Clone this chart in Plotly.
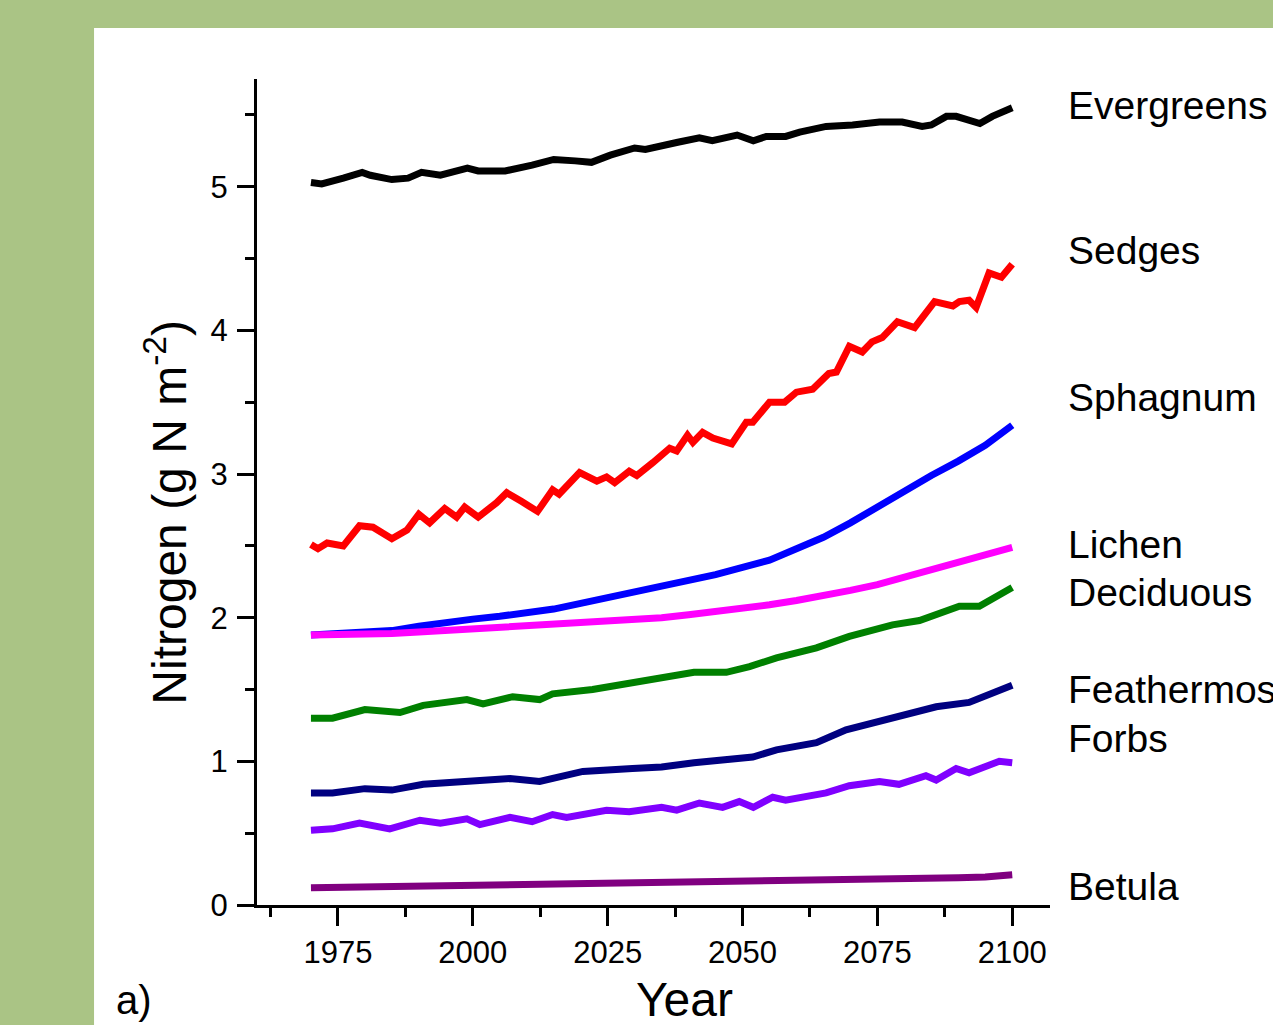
import plotly.graph_objects as go

# ---- Simulated plant-functional-type nitrogen pools (g N m-2), 1970-2100 ----
evergreens_years = [1970, 1972, 1976, 1979.5, 1981, 1985, 1988, 1990.5, 1994, 1999, 2001, 2006,
                    2011, 2015, 2019, 2022, 2025.5, 2030, 2032, 2035, 2038, 2042, 2044.4, 2049,
                    2052, 2054.4, 2058, 2060.6, 2065.5, 2070.4, 2075.4, 2079.6, 2083.3, 2085,
                    2087.8, 2089.6, 2094, 2096.3, 2100]
evergreens = [5.03, 5.02, 5.06, 5.10, 5.08, 5.05, 5.06, 5.10, 5.08, 5.13, 5.11, 5.11,
              5.15, 5.19, 5.18, 5.17, 5.22, 5.27, 5.26, 5.29, 5.31, 5.34, 5.32, 5.36,
              5.32, 5.35, 5.35, 5.38, 5.42, 5.43, 5.45, 5.45, 5.42, 5.43,
              5.49, 5.49, 5.44, 5.49, 5.55]

sedges_years = [1970, 1971.3, 1973, 1976, 1979, 1981.5, 1985, 1987.8, 1990, 1992, 1994.8, 1997,
                1998.5, 2001, 2004.4, 2006.3, 2009, 2012, 2014.8, 2016, 2019.8, 2023, 2024.8,
                2026.3, 2029, 2030.4, 2033.4, 2036.5, 2037.8, 2039.8, 2040.8, 2042.6, 2044.5,
                2048, 2050.7, 2051.9, 2055, 2057.8, 2060, 2063, 2066, 2067.4, 2069.8, 2072.2,
                2074, 2075.9, 2078.7, 2081.9, 2085.6, 2089, 2090.2, 2092, 2093.3, 2095.7,
                2098, 2100]
sedges = [2.51, 2.48, 2.52, 2.50, 2.64, 2.63, 2.55, 2.61, 2.72, 2.66, 2.76, 2.70,
          2.77, 2.70, 2.80, 2.87, 2.81, 2.74, 2.89, 2.86, 3.01, 2.95, 2.98,
          2.94, 3.02, 2.99, 3.08, 3.18, 3.16, 3.27, 3.22, 3.29, 3.25,
          3.21, 3.36, 3.36, 3.50, 3.50, 3.57, 3.59, 3.70, 3.71, 3.89, 3.85,
          3.92, 3.95, 4.06, 4.02, 4.20, 4.17, 4.20, 4.21, 4.16, 4.40,
          4.37, 4.46]

smooth_years = [1970, 1975, 1980, 1985, 1990, 1995, 2000, 2005, 2010, 2015, 2020, 2025, 2030,
                2035, 2040, 2045, 2050, 2055, 2060, 2065, 2070, 2075, 2080, 2085, 2090, 2095, 2100]
sphagnum = [1.88, 1.89, 1.90, 1.91, 1.94, 1.97, 1.99, 2.01, 2.03, 2.06, 2.10, 2.14, 2.17,
            2.21, 2.26, 2.30, 2.35, 2.40, 2.48, 2.56, 2.66, 2.77, 2.89, 2.99, 3.09, 3.20, 3.34]
lichen = [1.88, 1.88, 1.88, 1.89, 1.90, 1.91, 1.92, 1.93, 1.94, 1.95, 1.96, 1.97, 1.99,
          2.00, 2.02, 2.04, 2.06, 2.09, 2.12, 2.15, 2.19, 2.23, 2.28, 2.33, 2.38, 2.43, 2.49]

deciduous_years = [1970, 1974, 1980, 1986.5, 1990.8, 1995.7, 1998.9, 2001.9, 2007.4, 2012.4,
                   2014.8, 2022.2, 2026.6, 2035, 2041, 2047, 2051.3, 2056.3, 2063.7, 2069.8,
                   2077.8, 2082.8, 2090.2, 2093.9, 2100]
deciduous = [1.30, 1.30, 1.36, 1.34, 1.39, 1.41, 1.43, 1.40, 1.45, 1.43,
             1.47, 1.50, 1.53, 1.59, 1.62, 1.62, 1.66, 1.72, 1.79, 1.87,
             1.95, 1.98, 2.08, 2.08, 2.21]

feathermoss_years = [1970, 1974, 1980, 1985, 1990.8, 1995.7, 2001.9, 2006.9, 2012.4, 2020.4,
                     2029.6, 2035, 2041, 2047, 2051.9, 2056.3, 2063.7, 2069.2, 2077.8, 2085.9,
                     2092, 2100]
feathermoss = [0.78, 0.78, 0.81, 0.80, 0.84, 0.85, 0.86, 0.88, 0.86, 0.93,
               0.95, 0.96, 0.99, 1.01, 1.03, 1.08, 1.13, 1.22, 1.30, 1.38,
               1.41, 1.53]

forbs_years = [1970, 1974, 1979, 1984.6, 1990.2, 1994, 1998.9, 2001.3, 2006.9, 2011, 2014.8,
               2017.4, 2024.8, 2029, 2035, 2037.8, 2042, 2046.3, 2049.4, 2052, 2055.6, 2058,
               2065.5, 2069.8, 2075.4, 2079, 2084, 2085.9, 2089.6, 2092, 2097.6, 2100]
forbs = [0.52, 0.53, 0.57, 0.53, 0.59, 0.57, 0.60, 0.56, 0.61, 0.58, 0.63,
         0.61, 0.66, 0.65, 0.68, 0.66, 0.71, 0.68, 0.72, 0.68, 0.75, 0.73,
         0.78, 0.83, 0.86, 0.84, 0.90, 0.87, 0.95, 0.92, 1.00, 0.99]

betula_years = [1970, 1980, 1990, 2000, 2010, 2020, 2030, 2040, 2050, 2060, 2070, 2080, 2090,
                2095, 2100]
betula = [0.12, 0.125, 0.13, 0.135, 0.14, 0.145, 0.15, 0.155, 0.16, 0.165, 0.17, 0.18, 0.19,
          0.195, 0.21]

series = [
    ("Evergreens", evergreens_years, evergreens, "#000000"),
    ("Sedges", sedges_years, sedges, "#ff0000"),
    ("Sphagnum", smooth_years, sphagnum, "#0000ff"),
    ("Lichen", smooth_years, lichen, "#ff00ff"),
    ("Deciduous", deciduous_years, deciduous, "#008000"),
    ("Feathermoss", feathermoss_years, feathermoss, "#000080"),
    ("Forbs", forbs_years, forbs, "#8000ff"),
    ("Betula", betula_years, betula, "#800080"),
]

# right-hand series labels: name -> vertical position (paper fraction)
label_pos = {
    "Evergreens": 0.968, "Sedges": 0.792, "Sphagnum": 0.615, "Lichen": 0.437,
    "Deciduous": 0.378, "Feathermoss": 0.261, "Forbs": 0.201, "Betula": 0.023,
}

FONT = "Arial, 'Liberation Sans', sans-serif"

fig = go.Figure()
for name, xs, ys, color in series:
    fig.add_trace(go.Scatter(x=xs, y=ys, mode="lines", name=name,
                             line=dict(color=color, width=7), showlegend=False))

# white panel on the green page
fig.add_shape(type="rect", xref="paper", yref="paper",
              x0=-0.2055, x1=1.3, y0=-0.2, y1=1.0617,
              fillcolor="white", line=dict(width=0), layer="below")

for name, _, _, _ in series:
    fig.add_annotation(text=name, xref="paper", yref="paper", x=1.02, y=label_pos[name],
                       xanchor="left", yanchor="middle", showarrow=False,
                       font=dict(family=FONT, size=39, color="black"))

fig.add_annotation(text="Year", xref="paper", yref="paper", x=0.5397, y=-0.115,
                   xanchor="center", yanchor="middle", showarrow=False,
                   font=dict(family=FONT, size=48, color="black"))
fig.add_annotation(text="Nitrogen (g N m<sup>-2</sup>)", xref="paper", yref="paper",
                   x=-0.115, y=0.476, xanchor="center", yanchor="middle", textangle=-90,
                   showarrow=False, font=dict(family=FONT, size=48, color="black"))
fig.add_annotation(text="a)", xref="paper", yref="paper", x=-0.18, y=-0.115,
                   xanchor="left", yanchor="middle", showarrow=False,
                   font=dict(family=FONT, size=40, color="black"))

fig.update_xaxes(range=[1960, 2107], tick0=1975, dtick=25, showline=True, linewidth=3,
                 linecolor="black", ticks="outside", ticklen=18, tickwidth=3,
                 tickcolor="black", showgrid=False, zeroline=False,
                 tickfont=dict(family=FONT, size=31, color="black"),
                 minor=dict(dtick=12.5, ticks="outside", ticklen=9, tickwidth=3,
                            tickcolor="black", showgrid=False))
fig.update_yaxes(range=[0, 5.75], tick0=0, dtick=1, showline=True, linewidth=3,
                 linecolor="black", ticks="outside", ticklen=17, tickwidth=3,
                 tickcolor="black", showgrid=False, zeroline=False,
                 tickfont=dict(family=FONT, size=31, color="black"),
                 ticklabelstandoff=3,
                 minor=dict(dtick=0.5, ticks="outside", ticklen=9, tickwidth=3,
                            tickcolor="black", showgrid=False))

fig.update_layout(width=1273, height=1025, autosize=False,
                  margin=dict(l=257, r=223, t=79, b=120),
                  paper_bgcolor="#aac485", plot_bgcolor="white",
                  font=dict(family=FONT, color="black"))

fig.write_html("out.html")
